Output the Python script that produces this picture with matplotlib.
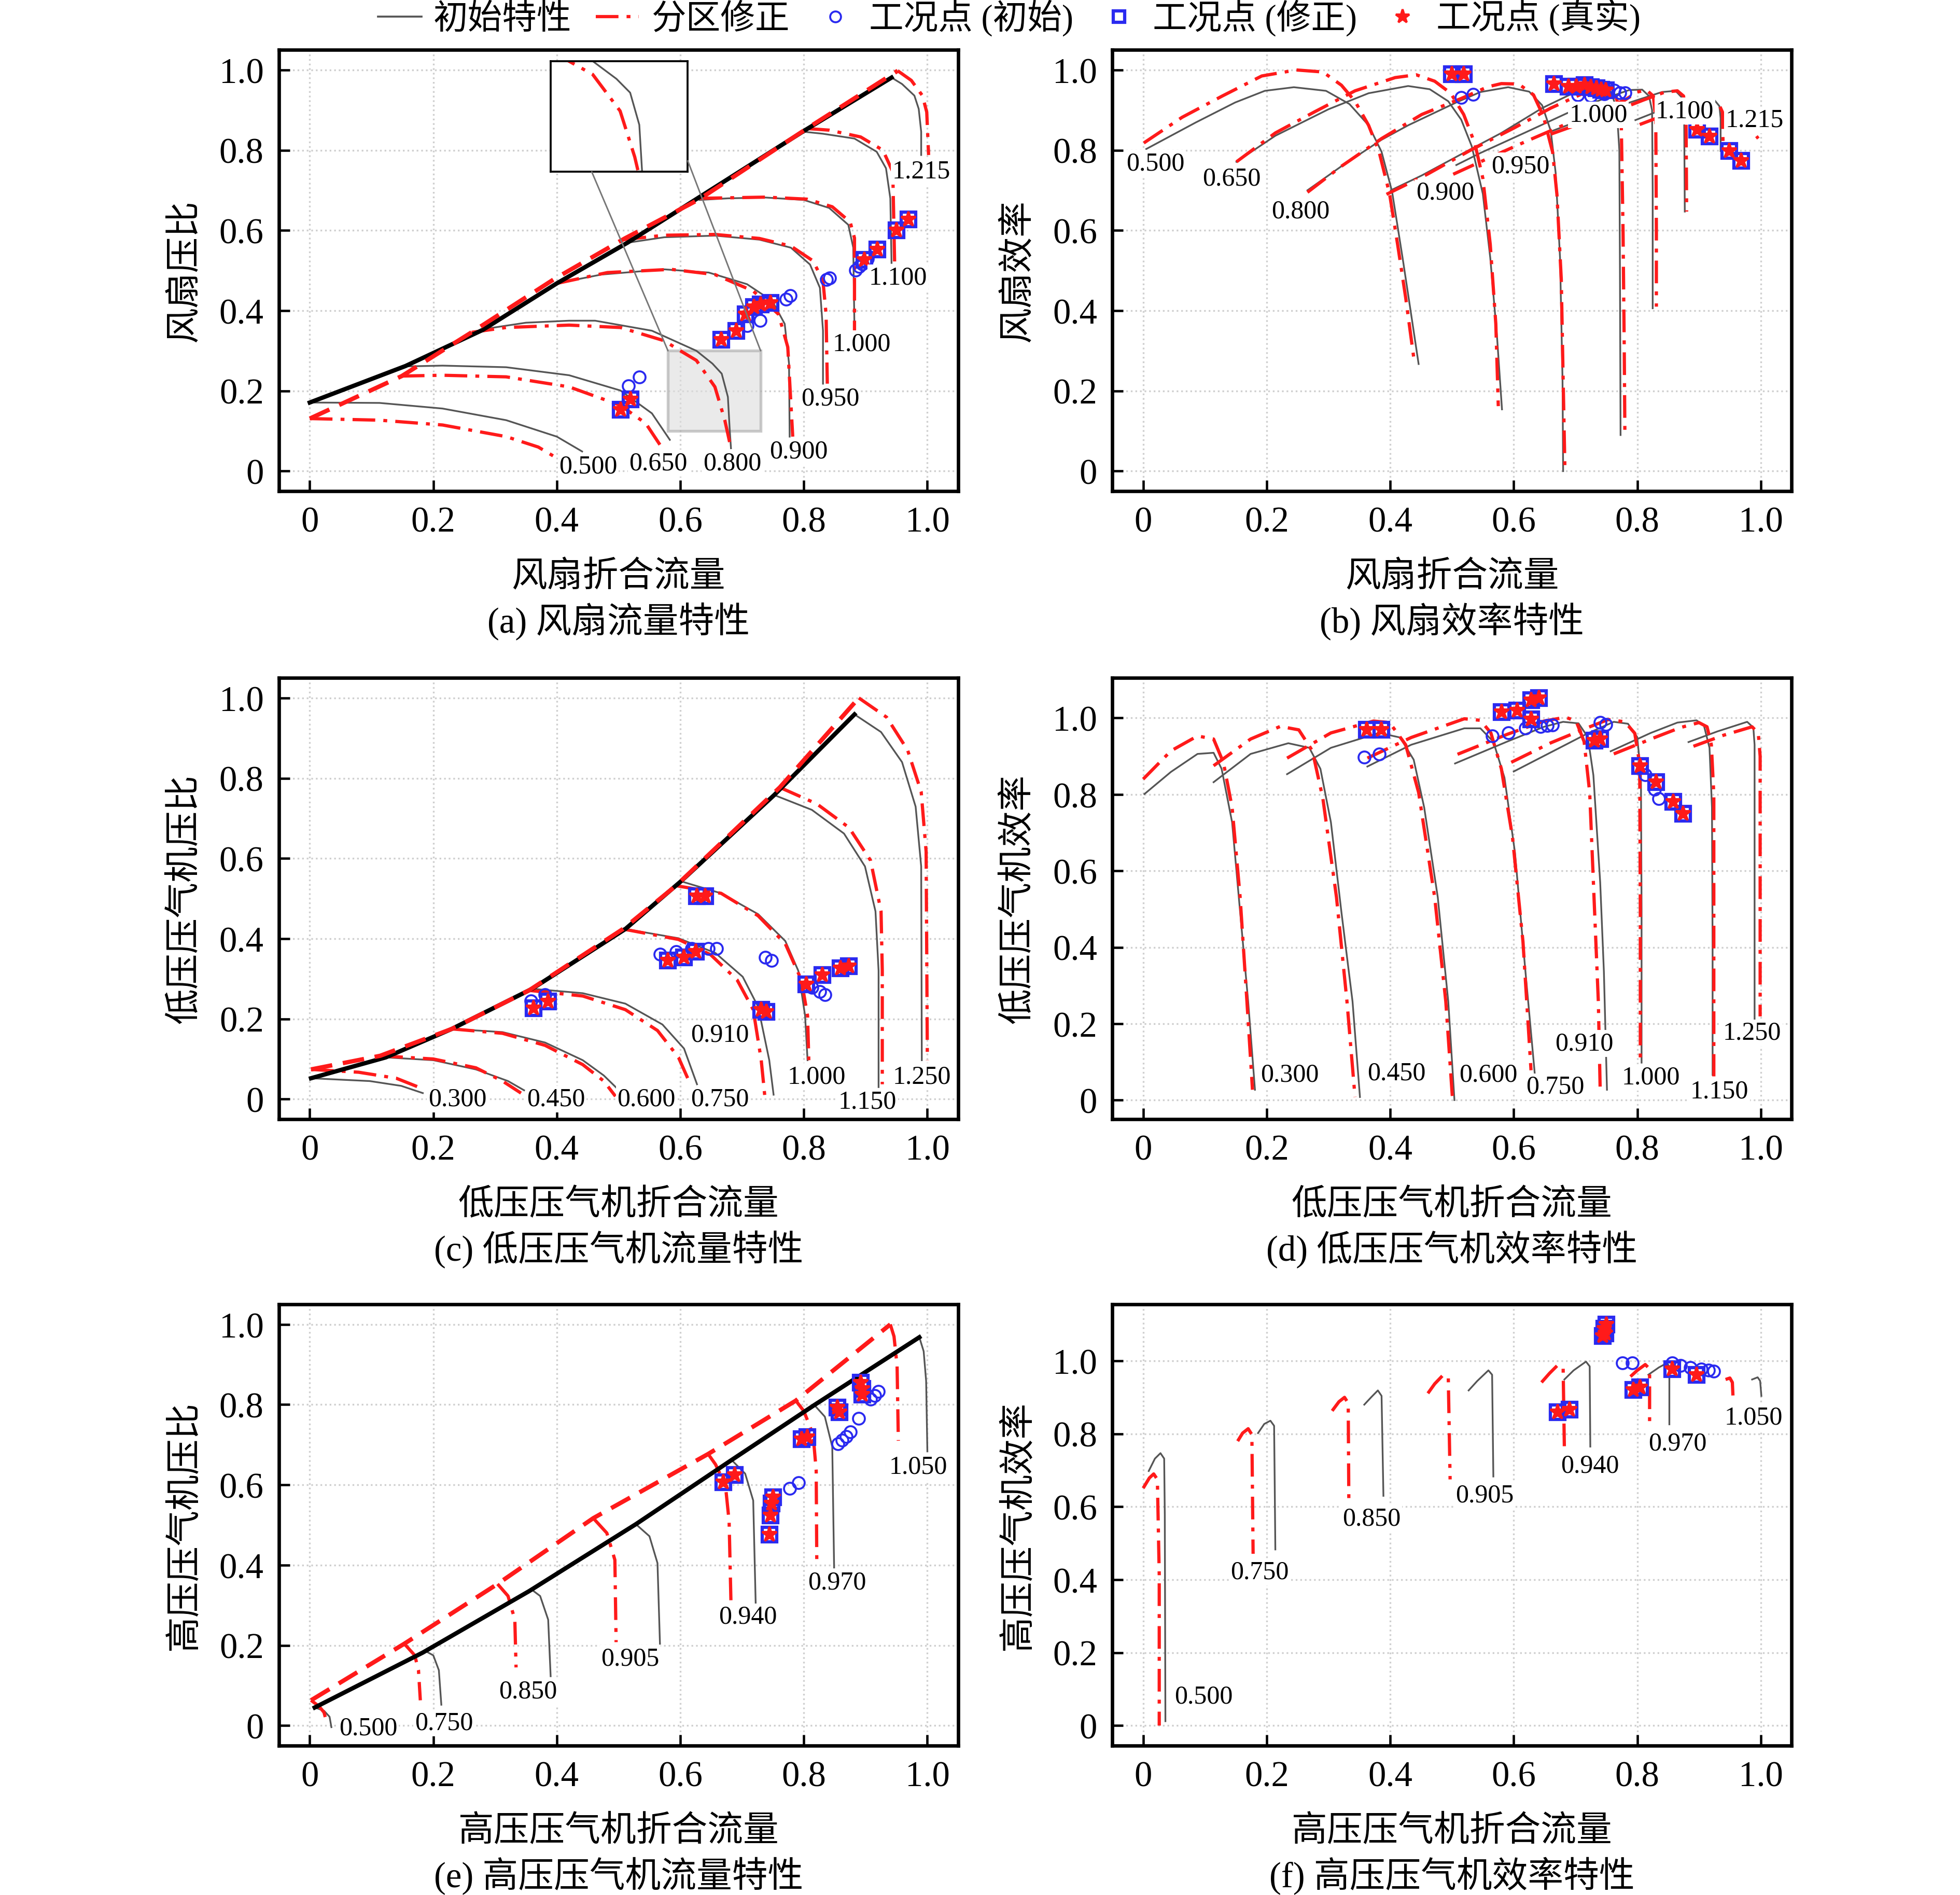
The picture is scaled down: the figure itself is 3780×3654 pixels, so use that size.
import matplotlib
matplotlib.use("Agg")
from matplotlib import pyplot as plt
from matplotlib.lines import Line2D
from matplotlib.patches import Rectangle, ConnectionPatch

plt.rcParams['font.family'] = ['Liberation Serif', 'Noto Sans CJK SC']
plt.rcParams['axes.unicode_minus'] = False

tick_vals = [0, 0.2, 0.4, 0.6, 0.8, 1.0]
tick_labels = ['0', '0.2', '0.4', '0.6', '0.8', '1.0']

# ---------------- (a) fan flow map ----------------
a_surge_init = [(0.0, 0.171), (0.155, 0.262), (0.28, 0.352), (0.40, 0.468), (0.515, 0.570), (0.80, 0.848), (0.942, 0.981)]
a_surge_fix = [(0.0, 0.131), (0.149, 0.237), (0.263, 0.347), (0.395, 0.478), (0.51, 0.58), (0.631, 0.678), (0.805, 0.854), (0.952, 0.998)]
a_init = {
    '0.500': [(0.0, 0.171), (0.113, 0.170), (0.215, 0.156), (0.318, 0.127), (0.40, 0.086), (0.441, 0.049)],
    '0.650': [(0.154, 0.261), (0.215, 0.263), (0.318, 0.259), (0.42, 0.239), (0.503, 0.201), (0.554, 0.144), (0.583, 0.078)],
    '0.800': [(0.277, 0.353), (0.35, 0.37), (0.42, 0.375), (0.462, 0.375), (0.554, 0.35), (0.626, 0.30), (0.652, 0.268), (0.667, 0.243), (0.677, 0.185), (0.68, 0.102), (0.682, 0.057)],
    '0.900': [(0.40, 0.468), (0.472, 0.49), (0.574, 0.503), (0.646, 0.495), (0.708, 0.466), (0.749, 0.424), (0.769, 0.367), (0.776, 0.268), (0.777, 0.086)],
    '0.950': [(0.513, 0.569), (0.574, 0.583), (0.656, 0.587), (0.728, 0.577), (0.779, 0.557), (0.81, 0.515), (0.826, 0.457), (0.831, 0.35), (0.831, 0.218)],
    '1.000': [(0.631, 0.676), (0.677, 0.68), (0.738, 0.682), (0.80, 0.676), (0.841, 0.656), (0.872, 0.614), (0.88, 0.557), (0.882, 0.35)],
    '1.100': [(0.80, 0.846), (0.831, 0.841), (0.882, 0.829), (0.918, 0.796), (0.933, 0.755), (0.94, 0.68), (0.942, 0.519)],
    '1.215': [(0.942, 0.981), (0.959, 0.965), (0.979, 0.936), (0.986, 0.903), (0.99, 0.846), (0.99, 0.788)],
}
a_fix = {
    '0.500': [(0.0, 0.131), (0.113, 0.127), (0.215, 0.115), (0.318, 0.086), (0.37, 0.06), (0.405, 0.028)],
    '0.650': [(0.149, 0.237), (0.215, 0.239), (0.318, 0.235), (0.42, 0.21), (0.503, 0.164), (0.544, 0.119), (0.569, 0.061)],
    '0.800': [(0.262, 0.346), (0.318, 0.358), (0.42, 0.364), (0.503, 0.358), (0.574, 0.325), (0.60, 0.30), (0.626, 0.276), (0.656, 0.21), (0.672, 0.127), (0.682, 0.057)],
    '0.900': [(0.40, 0.468), (0.482, 0.495), (0.585, 0.503), (0.656, 0.49), (0.718, 0.449), (0.759, 0.391), (0.774, 0.309), (0.782, 0.086)],
    '0.950': [(0.508, 0.577), (0.574, 0.588), (0.656, 0.59), (0.728, 0.58), (0.779, 0.561), (0.815, 0.524), (0.831, 0.474), (0.836, 0.391), (0.838, 0.218)],
    '1.000': [(0.631, 0.68), (0.738, 0.683), (0.805, 0.678), (0.846, 0.659), (0.875, 0.621), (0.882, 0.581), (0.882, 0.35)],
    '1.100': [(0.805, 0.854), (0.841, 0.85), (0.892, 0.833), (0.928, 0.80), (0.944, 0.746), (0.947, 0.519)],
    '1.215': [(0.952, 0.998), (0.974, 0.974), (0.992, 0.936), (0.999, 0.895), (1.002, 0.788)],
}
a_lab = {'0.500': (0.451, 0.012), '0.650': (0.564, 0.02), '0.800': (0.684, 0.02), '0.900': (0.792, 0.049),
         '0.950': (0.843, 0.181), '1.000': (0.894, 0.317), '1.100': (0.952, 0.482), '1.215': (0.99, 0.748)}
a_pts_init = [(0.516, 0.212), (0.534, 0.234), (0.708, 0.363), (0.729, 0.375), (0.771, 0.428), (0.778, 0.437),
              (0.837, 0.478), (0.842, 0.482), (0.884, 0.501), (0.89, 0.51), (0.895, 0.516), (0.903, 0.529)]
a_pts_fix = [(0.503, 0.153), (0.519, 0.179), (0.666, 0.328), (0.691, 0.349), (0.706, 0.391), (0.719, 0.409),
             (0.73, 0.415), (0.746, 0.42), (0.898, 0.527), (0.919, 0.553), (0.95, 0.601), (0.969, 0.627)]

# ---------------- (b) fan efficiency ----------------
b_init = {
    '0.500': [(0.005, 0.803), (0.085, 0.869), (0.149, 0.919), (0.197, 0.948), (0.244, 0.957), (0.296, 0.948), (0.334, 0.915), (0.365, 0.862), (0.386, 0.796), (0.403, 0.697), (0.42, 0.532), (0.433, 0.40), (0.446, 0.267)],
    '0.650': [(0.151, 0.771), (0.214, 0.836), (0.30, 0.902), (0.365, 0.942), (0.429, 0.96), (0.464, 0.952), (0.494, 0.922), (0.515, 0.876), (0.532, 0.81), (0.55, 0.691), (0.562, 0.532), (0.573, 0.334), (0.581, 0.154)],
    '0.800': [(0.266, 0.70), (0.321, 0.76), (0.386, 0.826), (0.429, 0.862), (0.507, 0.919), (0.546, 0.945), (0.591, 0.957), (0.625, 0.946), (0.646, 0.912), (0.66, 0.848), (0.668, 0.742), (0.675, 0.531), (0.679, 0.23), (0.68, 0.0)],
    '0.900': [(0.401, 0.70), (0.451, 0.737), (0.515, 0.79), (0.58, 0.843), (0.646, 0.905), (0.70, 0.945), (0.74, 0.958), (0.758, 0.945), (0.767, 0.90), (0.771, 0.80), (0.772, 0.50), (0.773, 0.09)],
    '0.950': [(0.507, 0.763), (0.546, 0.793), (0.62, 0.845), (0.686, 0.892), (0.74, 0.925), (0.787, 0.95), (0.808, 0.951), (0.819, 0.935), (0.824, 0.90), (0.825, 0.70), (0.825, 0.406)],
    '1.000': [(0.64, 0.835), (0.70, 0.87), (0.76, 0.905), (0.80, 0.925), (0.84, 0.945), (0.862, 0.948), (0.873, 0.93), (0.876, 0.88), (0.877, 0.647)],
    '1.100': [(0.797, 0.875), (0.83, 0.895), (0.87, 0.915), (0.905, 0.928), (0.925, 0.925), (0.933, 0.91), (0.935, 0.88), (0.935, 0.798)],
    '1.215': [(0.975, 0.86), (0.985, 0.865), (0.99, 0.855)],
}
b_fix = {
    '0.500': [(0.001, 0.818), (0.063, 0.882), (0.128, 0.935), (0.192, 0.985), (0.248, 1.0), (0.291, 0.995), (0.321, 0.962), (0.343, 0.922), (0.365, 0.862), (0.382, 0.796), (0.399, 0.691), (0.412, 0.565), (0.425, 0.433), (0.438, 0.284)],
    '0.650': [(0.151, 0.771), (0.214, 0.843), (0.278, 0.896), (0.343, 0.948), (0.408, 0.981), (0.442, 0.988), (0.472, 0.972), (0.498, 0.942), (0.519, 0.889), (0.537, 0.817), (0.55, 0.73), (0.562, 0.565), (0.571, 0.367), (0.575, 0.162)],
    '0.800': [(0.266, 0.695), (0.321, 0.76), (0.386, 0.829), (0.451, 0.889), (0.515, 0.929), (0.558, 0.958), (0.58, 0.966), (0.608, 0.965), (0.632, 0.938), (0.648, 0.885), (0.663, 0.795), (0.67, 0.689), (0.677, 0.478), (0.68, 0.23), (0.683, -0.005)],
    '0.900': [(0.394, 0.69), (0.46, 0.74), (0.53, 0.80), (0.60, 0.855), (0.66, 0.905), (0.71, 0.94), (0.745, 0.952), (0.765, 0.938), (0.774, 0.88), (0.777, 0.60), (0.779, 0.30), (0.78, 0.09)],
    '0.950': [(0.502, 0.74), (0.546, 0.771), (0.62, 0.822), (0.686, 0.866), (0.74, 0.90), (0.78, 0.925), (0.80, 0.945), (0.815, 0.95), (0.826, 0.935), (0.83, 0.88), (0.831, 0.60), (0.831, 0.41)],
    '1.000': [(0.66, 0.84), (0.70, 0.862), (0.76, 0.895), (0.81, 0.925), (0.845, 0.945), (0.865, 0.948), (0.875, 0.935), (0.879, 0.88), (0.88, 0.647)],
    '1.100': [(0.804, 0.864), (0.84, 0.885), (0.88, 0.905), (0.915, 0.918), (0.932, 0.915), (0.938, 0.895), (0.939, 0.81)],
    '1.215': [(0.993, 0.835), (0.996, 0.829)],
}
b_lab = {'0.500': (0.02, 0.767), '0.650': (0.143, 0.73), '0.800': (0.255, 0.648), '0.900': (0.489, 0.694),
         '0.950': (0.611, 0.761), '1.000': (0.737, 0.888), '1.100': (0.877, 0.898), '1.215': (0.99, 0.875)}
b_pts_init = [(0.515, 0.932), (0.534, 0.939), (0.704, 0.938), (0.725, 0.935), (0.747, 0.941), (0.763, 0.949), (0.772, 0.943), (0.78, 0.943)]
b_pts_fix = [(0.50, 0.989), (0.519, 0.989), (0.665, 0.965), (0.689, 0.959), (0.701, 0.959), (0.715, 0.962), (0.725, 0.957),
             (0.734, 0.954), (0.742, 0.951), (0.749, 0.949), (0.897, 0.851), (0.917, 0.835), (0.949, 0.798), (0.968, 0.774)]

# ---------------- (c) LPC flow map ----------------
c_surge_init = [(0.002, 0.052), (0.123, 0.104), (0.23, 0.175), (0.36, 0.275), (0.511, 0.424), (0.601, 0.543), (0.752, 0.758), (0.882, 0.959)]
c_surge_fix = [(0.002, 0.074), (0.114, 0.108), (0.23, 0.175), (0.355, 0.271), (0.507, 0.424), (0.593, 0.532), (0.761, 0.777), (0.889, 1.0)]
c_init = {
    '0.300': [(0.002, 0.052), (0.097, 0.045), (0.148, 0.033), (0.183, 0.015)],
    '0.450': [(0.123, 0.104), (0.2, 0.097), (0.269, 0.074), (0.321, 0.045), (0.347, 0.022)],
    '0.600': [(0.23, 0.175), (0.312, 0.167), (0.381, 0.141), (0.442, 0.097), (0.476, 0.059), (0.498, 0.026)],
    '0.750': [(0.36, 0.275), (0.442, 0.264), (0.511, 0.238), (0.571, 0.186), (0.606, 0.126), (0.627, 0.037)],
    '0.910': [(0.511, 0.424), (0.597, 0.401), (0.657, 0.364), (0.701, 0.305), (0.726, 0.23), (0.744, 0.097), (0.751, 0.011)],
    '1.000': [(0.601, 0.543), (0.666, 0.513), (0.726, 0.461), (0.77, 0.394), (0.791, 0.32), (0.802, 0.208), (0.806, 0.097)],
    '1.150': [(0.752, 0.758), (0.813, 0.721), (0.865, 0.662), (0.899, 0.58), (0.916, 0.468), (0.921, 0.32), (0.921, 0.03)],
    '1.250': [(0.882, 0.959), (0.925, 0.915), (0.959, 0.84), (0.981, 0.729), (0.99, 0.58), (0.991, 0.097)],
}
c_fix = {
    '0.300': [(0.002, 0.074), (0.079, 0.067), (0.14, 0.052), (0.176, 0.03)],
    '0.450': [(0.114, 0.108), (0.2, 0.1), (0.269, 0.078), (0.312, 0.045), (0.342, 0.015)],
    '0.600': [(0.23, 0.175), (0.312, 0.164), (0.381, 0.134), (0.442, 0.086), (0.476, 0.045), (0.495, 0.007)],
    '0.750': [(0.355, 0.271), (0.442, 0.257), (0.511, 0.223), (0.563, 0.171), (0.597, 0.104), (0.614, 0.045)],
    '0.910': [(0.507, 0.424), (0.597, 0.398), (0.649, 0.36), (0.692, 0.297), (0.718, 0.223), (0.731, 0.097), (0.737, 0.004)],
    '1.000': [(0.593, 0.532), (0.666, 0.513), (0.726, 0.457), (0.77, 0.387), (0.796, 0.297), (0.806, 0.208), (0.808, 0.097)],
    '1.150': [(0.761, 0.777), (0.821, 0.736), (0.873, 0.677), (0.908, 0.595), (0.925, 0.468), (0.927, 0.32), (0.927, 0.037)],
    '1.250': [(0.889, 1.0), (0.934, 0.952), (0.968, 0.87), (0.99, 0.766), (0.998, 0.617), (1.0, 0.097)],
}
c_lab = {'0.300': (0.239, 0.0), '0.450': (0.399, 0.0), '0.600': (0.545, 0.0), '0.750': (0.664, 0.0),
         '0.910': (0.664, 0.16), '1.000': (0.821, 0.056), '1.150': (0.903, -0.007), '1.250': (0.991, 0.056)}
c_pts_init = [(0.358, 0.245), (0.381, 0.26), (0.567, 0.361), (0.593, 0.368), (0.618, 0.375), (0.645, 0.375), (0.659, 0.375),
              (0.738, 0.353), (0.748, 0.346), (0.813, 0.279), (0.826, 0.268), (0.834, 0.26)]
c_pts_fix = [(0.362, 0.227), (0.386, 0.244), (0.58, 0.346), (0.606, 0.353), (0.625, 0.367), (0.627, 0.506), (0.64, 0.506),
             (0.731, 0.223), (0.739, 0.217), (0.804, 0.286), (0.83, 0.309), (0.859, 0.326), (0.873, 0.331)]

# ---------------- (d) LPC efficiency ----------------
d_init = {
    '0.300': [(0.002, 0.801), (0.045, 0.859), (0.088, 0.906), (0.114, 0.909), (0.127, 0.867), (0.144, 0.727), (0.157, 0.492), (0.17, 0.258), (0.181, 0.027)],
    '0.450': [(0.114, 0.832), (0.174, 0.906), (0.235, 0.934), (0.269, 0.922), (0.287, 0.867), (0.304, 0.727), (0.321, 0.492), (0.339, 0.258), (0.351, 0.008)],
    '0.600': [(0.233, 0.853), (0.304, 0.922), (0.382, 0.961), (0.416, 0.949), (0.438, 0.891), (0.455, 0.766), (0.477, 0.531), (0.494, 0.258), (0.504, 0.0)],
    '0.750': [(0.363, 0.873), (0.434, 0.93), (0.52, 0.973), (0.546, 0.973), (0.567, 0.938), (0.585, 0.844), (0.602, 0.648), (0.619, 0.336), (0.634, 0.07)],
    '0.910': [(0.505, 0.881), (0.589, 0.938), (0.649, 0.977), (0.68, 0.99), (0.705, 0.986), (0.72, 0.95), (0.729, 0.85), (0.74, 0.57), (0.746, 0.336), (0.751, 0.027)],
    '1.000': [(0.60, 0.86), (0.66, 0.91), (0.72, 0.96), (0.762, 0.99), (0.785, 0.985), (0.80, 0.95), (0.806, 0.85), (0.807, 0.50), (0.807, 0.098)],
    '1.150': [(0.757, 0.913), (0.822, 0.961), (0.865, 0.988), (0.896, 0.994), (0.908, 0.98), (0.917, 0.922), (0.921, 0.766), (0.922, 0.40), (0.922, 0.066)],
    '1.250': [(0.883, 0.937), (0.93, 0.965), (0.978, 0.99), (0.988, 0.975), (0.99, 0.93), (0.99, 0.60), (0.99, 0.211)],
}
d_fix = {
    '0.300': [(0.0, 0.84), (0.045, 0.914), (0.088, 0.953), (0.114, 0.945), (0.13, 0.883), (0.144, 0.766), (0.157, 0.531), (0.168, 0.258), (0.177, 0.027)],
    '0.450': [(0.114, 0.875), (0.174, 0.945), (0.222, 0.978), (0.252, 0.969), (0.274, 0.914), (0.291, 0.789), (0.313, 0.531), (0.33, 0.258), (0.343, 0.008)],
    '0.600': [(0.233, 0.895), (0.304, 0.961), (0.373, 0.992), (0.399, 0.988), (0.425, 0.93), (0.446, 0.805), (0.472, 0.531), (0.49, 0.258), (0.501, 0.0)],
    '0.750': [(0.363, 0.895), (0.434, 0.949), (0.52, 0.998), (0.546, 0.994), (0.563, 0.961), (0.58, 0.867), (0.598, 0.688), (0.615, 0.414), (0.628, 0.078)],
    '0.910': [(0.509, 0.905), (0.589, 0.957), (0.649, 0.992), (0.684, 1.002), (0.701, 0.992), (0.714, 0.938), (0.723, 0.805), (0.731, 0.492), (0.737, 0.258), (0.74, 0.027)],
    '1.000': [(0.596, 0.884), (0.66, 0.935), (0.72, 0.975), (0.753, 0.996), (0.78, 0.99), (0.796, 0.96), (0.804, 0.88), (0.805, 0.50), (0.805, 0.109)],
    '1.150': [(0.762, 0.906), (0.83, 0.95), (0.87, 0.975), (0.90, 0.988), (0.913, 0.977), (0.92, 0.93), (0.924, 0.80), (0.924, 0.40), (0.924, 0.062)],
    '1.250': [(0.891, 0.926), (0.94, 0.955), (0.986, 0.977), (0.996, 0.96), (0.999, 0.90), (0.999, 0.60), (0.999, 0.219)],
}
d_lab = {'0.300': (0.237, 0.066), '0.450': (0.41, 0.07), '0.600': (0.559, 0.066), '0.750': (0.667, 0.035),
         '0.910': (0.714, 0.148), '1.000': (0.822, 0.059), '1.150': (0.933, 0.023), '1.250': (0.986, 0.176)}
d_pts_init = [(0.358, 0.898), (0.382, 0.905), (0.565, 0.953), (0.591, 0.961), (0.619, 0.973), (0.643, 0.977), (0.654, 0.98),
              (0.663, 0.982), (0.74, 0.988), (0.749, 0.983), (0.813, 0.852), (0.828, 0.813), (0.835, 0.789)]
d_pts_fix = [(0.362, 0.969), (0.386, 0.97), (0.58, 1.016), (0.606, 1.02), (0.628, 1.047), (0.641, 1.052), (0.628, 0.996),
             (0.731, 0.941), (0.74, 0.945), (0.805, 0.875), (0.831, 0.832), (0.858, 0.781), (0.874, 0.75)]

# ---------------- (e) HPC flow map ----------------
e_surge_init = [(0.008, 0.045), (0.183, 0.182), (0.355, 0.335), (0.528, 0.502), (0.683, 0.662), (0.817, 0.799), (0.987, 0.968)]
e_surge_fix = [(0.002, 0.063), (0.153, 0.204), (0.304, 0.353), (0.459, 0.517), (0.645, 0.677), (0.787, 0.81), (0.94, 1.0)]
e_init = {
    '0.500': [(0.008, 0.045), (0.023, 0.037), (0.032, 0.022), (0.035, -0.004)],
    '0.750': [(0.187, 0.186), (0.20, 0.175), (0.209, 0.138), (0.213, 0.052)],
    '0.850': [(0.36, 0.338), (0.373, 0.323), (0.386, 0.264), (0.39, 0.123)],
    '0.905': [(0.528, 0.502), (0.55, 0.472), (0.563, 0.405), (0.567, 0.204)],
    '0.940': [(0.683, 0.662), (0.705, 0.628), (0.718, 0.561), (0.722, 0.305)],
    '0.970': [(0.817, 0.799), (0.834, 0.77), (0.846, 0.695), (0.849, 0.394)],
    '1.050': [(0.987, 0.968), (0.994, 0.933), (0.998, 0.859), (1.0, 0.684)],
}
e_fix = {
    '0.500': [(0.002, 0.063), (0.015, 0.048), (0.023, 0.033), (0.028, 0.004)],
    '0.750': [(0.153, 0.204), (0.17, 0.175), (0.176, 0.138), (0.179, 0.063)],
    '0.850': [(0.304, 0.353), (0.321, 0.323), (0.332, 0.264), (0.334, 0.145)],
    '0.905': [(0.459, 0.517), (0.481, 0.48), (0.494, 0.413), (0.496, 0.208)],
    '0.940': [(0.645, 0.677), (0.657, 0.651), (0.673, 0.599), (0.679, 0.509), (0.682, 0.305)],
    '0.970': [(0.787, 0.81), (0.80, 0.784), (0.815, 0.725), (0.82, 0.636), (0.821, 0.398)],
    '1.050': [(0.94, 1.0), (0.946, 0.97), (0.951, 0.896), (0.953, 0.71)],
}
e_lab = {'0.500': (0.095, -0.007), '0.750': (0.217, 0.007), '0.850': (0.353, 0.086), '0.905': (0.519, 0.167),
         '0.940': (0.709, 0.271), '0.970': (0.854, 0.357), '1.050': (0.985, 0.645)}
e_pts_init = [(0.777, 0.591), (0.791, 0.606), (0.855, 0.703), (0.862, 0.712), (0.869, 0.721), (0.875, 0.732), (0.889, 0.766),
              (0.908, 0.814), (0.915, 0.822), (0.921, 0.833)]
e_pts_fix = [(0.67, 0.607), (0.688, 0.625), (0.744, 0.476), (0.746, 0.524), (0.748, 0.554), (0.75, 0.569), (0.796, 0.714),
             (0.806, 0.719), (0.854, 0.793), (0.858, 0.781), (0.892, 0.855), (0.895, 0.84), (0.895, 0.825)]

# ---------------- (f) HPC efficiency ----------------
f_init = {
    '0.500': [(0.009, 0.698), (0.019, 0.732), (0.028, 0.747), (0.034, 0.732), (0.035, 0.577), (0.036, 0.012)],
    '0.750': [(0.186, 0.802), (0.196, 0.827), (0.206, 0.836), (0.212, 0.822), (0.213, 0.659), (0.214, 0.483)],
    '0.850': [(0.358, 0.88), (0.369, 0.90), (0.38, 0.919), (0.386, 0.904), (0.389, 0.63)],
    '0.905': [(0.527, 0.919), (0.541, 0.945), (0.559, 0.974), (0.565, 0.962), (0.567, 0.683)],
    '0.940': [(0.682, 0.949), (0.697, 0.974), (0.717, 0.998), (0.723, 0.985), (0.724, 0.765)],
    '0.970': [(0.818, 0.962), (0.835, 0.982), (0.848, 0.994), (0.852, 0.985), (0.852, 0.826)],
    '1.050': [(0.986, 0.949), (0.995, 0.955), (0.999, 0.945), (1.001, 0.904)],
}
f_fix = {
    '0.500': [(0.0, 0.651), (0.01, 0.679), (0.017, 0.69), (0.023, 0.675), (0.026, 0.413), (0.026, 0.0)],
    '0.750': [(0.153, 0.78), (0.161, 0.802), (0.17, 0.814), (0.176, 0.798), (0.178, 0.471)],
    '0.850': [(0.306, 0.863), (0.317, 0.888), (0.326, 0.90), (0.332, 0.884), (0.333, 0.618)],
    '0.905': [(0.461, 0.911), (0.472, 0.937), (0.485, 0.96), (0.494, 0.957), (0.497, 0.675)],
    '0.940': [(0.645, 0.941), (0.658, 0.966), (0.671, 0.988), (0.68, 0.982), (0.682, 0.761)],
    '0.970': [(0.789, 0.957), (0.80, 0.974), (0.813, 0.99), (0.82, 0.978), (0.82, 0.826)],
    '1.050': [(0.943, 0.949), (0.95, 0.953), (0.954, 0.941), (0.955, 0.904)],
}
f_lab = {'0.500': (0.098, 0.079), '0.750': (0.189, 0.421), '0.850': (0.37, 0.567), '0.905': (0.553, 0.632),
         '0.940': (0.723, 0.712), '0.970': (0.865, 0.773), '1.050': (0.988, 0.845)}
f_pts_init = [(0.776, 0.994), (0.792, 0.994), (0.857, 0.994), (0.87, 0.988), (0.886, 0.982), (0.904, 0.978), (0.915, 0.974), (0.924, 0.971)]
f_pts_fix = [(0.671, 0.859), (0.69, 0.867), (0.744, 1.068), (0.747, 1.088), (0.75, 1.10), (0.748, 1.076), (0.794, 0.921),
             (0.805, 0.927), (0.857, 0.978), (0.896, 0.962)]

x_names = ['风扇折合流量', '风扇折合流量', '低压压气机折合流量', '低压压气机折合流量', '高压压气机折合流量', '高压压气机折合流量']
y_names = ['风扇压比', '风扇效率', '低压压气机压比', '低压压气机效率', '高压压气机压比', '高压压气机效率']
titles = ['(a) 风扇流量特性', '(b) 风扇效率特性', '(c) 低压压气机流量特性', '(d) 低压压气机效率特性',
          '(e) 高压压气机流量特性', '(f) 高压压气机效率特性']

GRAY = '#555555'
RED = '#ff1a1a'
BLUE = '#2a2af0'
DASHDOT = (0, (7, 2.5, 1.2, 2.5))


def xs(pts):
    return [p[0] for p in pts]


def ys(pts):
    return [p[1] for p in pts]


def draw_map(ax, init, fix, labs, p_init, p_fix, surge_init=None, surge_fix=None):
    for k, pts in init.items():
        ax.plot(xs(pts), ys(pts), color=GRAY, lw=0.8, zorder=2)
    for k, pts in fix.items():
        ax.plot(xs(pts), ys(pts), color=RED, lw=1.5, linestyle=DASHDOT, zorder=3)
    if surge_init is not None:
        ax.plot(xs(surge_init), ys(surge_init), color='black', lw=2.0, zorder=4)
        ax.plot(xs(surge_fix), ys(surge_fix), color=RED, lw=2.0, linestyle=(0, (5, 2.5)), zorder=4)
    ax.plot(xs(p_init), ys(p_init), 'o', ms=5.5, mfc='none', mec=BLUE, mew=0.9, zorder=5)
    ax.plot(xs(p_fix), ys(p_fix), 's', ms=6.5, mfc='none', mec=BLUE, mew=1.5, zorder=5)
    ax.plot(xs(p_fix), ys(p_fix), '*', ms=7, color=RED, mec=RED, zorder=6)
    for k, (tx, ty) in labs.items():
        ax.text(tx, ty, k, fontsize=12, ha='center', va='center', zorder=7,
                bbox=dict(fc='white', ec='none', pad=0.6))


def style_axes(ax, i, ylim):
    ax.set_xlim(-0.05, 1.05)
    ax.set_ylim(*ylim)
    ax.set_xticks(tick_vals)
    ax.set_xticklabels(tick_labels)
    ax.set_yticks(tick_vals)
    ax.set_yticklabels(tick_labels)
    ax.tick_params(direction='in', length=5, width=1.1, labelsize=16.5, pad=7)
    ax.grid(True, color='#cfcfcf', linestyle=':', lw=0.8, zorder=0)
    ax.set_axisbelow(True)
    for s in ax.spines.values():
        s.set_linewidth(1.6)
    ax.set_xlabel(x_names[i], fontsize=16.5, labelpad=10)
    ax.set_ylabel(y_names[i], fontsize=16.5, labelpad=8)
    ax.text(0.5, -0.294, titles[i], transform=ax.transAxes, fontsize=16.5, ha='center', va='center')


fig = plt.figure(figsize=(12.6, 12.1833), dpi=300)
col_left = [0.1423, 0.5675]
row_bottom = [0.7406, 0.4093, 0.0788]
w, h = 0.3466, 0.2328
axes = []
for r in range(3):
    for c in range(2):
        axes.append(fig.add_axes([col_left[c], row_bottom[r], w, h]))

draw_map(axes[0], a_init, a_fix, a_lab, a_pts_init, a_pts_fix, a_surge_init, a_surge_fix)
draw_map(axes[1], b_init, b_fix, b_lab, b_pts_init, b_pts_fix)
draw_map(axes[2], c_init, c_fix, c_lab, c_pts_init, c_pts_fix, c_surge_init, c_surge_fix)
draw_map(axes[3], d_init, d_fix, d_lab, d_pts_init, d_pts_fix)
draw_map(axes[4], e_init, e_fix, e_lab, e_pts_init, e_pts_fix, e_surge_init, e_surge_fix)
draw_map(axes[5], f_init, f_fix, f_lab, f_pts_init, f_pts_fix)

ylims = [(-0.05, 1.05), (-0.05, 1.05), (-0.05, 1.05), (-0.05, 1.105), (-0.05, 1.05), (-0.055, 1.155)]
for i, ax in enumerate(axes):
    style_axes(ax, i, ylims[i])

# zoom box on panel (a)
ax = axes[0]
zx, zy = (0.58, 0.73), (0.10, 0.30)
ax.add_patch(Rectangle((zx[0], zy[0]), zx[1] - zx[0], zy[1] - zy[0], fc='#dddddd', ec='#a8a8a8',
                       lw=1.3, alpha=0.6, zorder=1))
ins = ax.inset_axes([0.39, 0.746, 0.222, 0.276], transform=ax.transData)
ins.plot(xs(a_init['0.800']), ys(a_init['0.800']), color=GRAY, lw=0.8)
ins.plot(xs(a_fix['0.800']), ys(a_fix['0.800']), color=RED, lw=1.5, linestyle=DASHDOT)
ins.set_xlim(*zx)
ins.set_ylim(*zy)
ins.set_xticks([])
ins.set_yticks([])
for s in ins.spines.values():
    s.set_linewidth(0.9)
for pa, pb in [((zx[0], zy[1]), (0.3, 0.0)), ((zx[1], zy[1]), (1.0, 0.1))]:
    con = ConnectionPatch(xyA=pa, coordsA=ax.transData, xyB=pb, coordsB=ins.transAxes,
                          color='#777777', lw=0.7, zorder=1)
    fig.add_artist(con)

handles = [
    Line2D([], [], color=GRAY, lw=0.9),
    Line2D([], [], color=RED, lw=1.5, linestyle=DASHDOT),
    Line2D([], [], marker='o', ls='none', ms=5, mfc='none', mec=BLUE, mew=0.9),
    Line2D([], [], marker='s', ls='none', ms=5.5, mfc='none', mec=BLUE, mew=1.5),
    Line2D([], [], marker='*', ls='none', ms=6.5, color=RED),
]
names = ['初始特性', '分区修正', '工况点 (初始)', '工况点 (修正)', '工况点 (真实)']
fig.legend(handles, names, loc='center', bbox_to_anchor=(0.515, 0.9905), ncol=5, frameon=False,
           fontsize=16, handlelength=1.25, handletextpad=0.35, columnspacing=0.7)

fig.savefig('out.png', dpi=300)
